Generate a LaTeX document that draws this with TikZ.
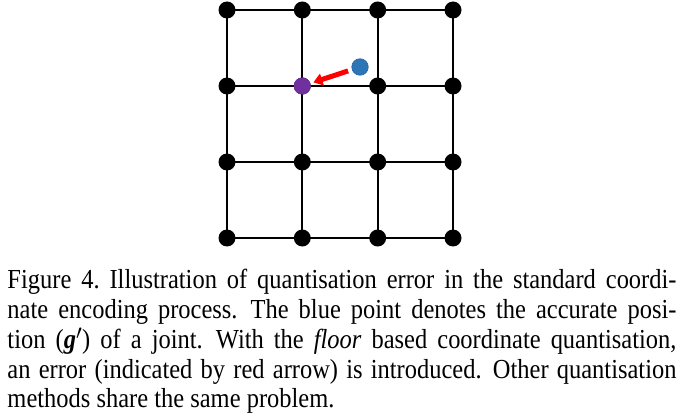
\documentclass[tikz,border=0pt]{standalone}
\usepackage{fontspec}
\setmainfont{Liberation Serif}[FakeStretch=0.89, UprightFont={Liberation Serif}, ItalicFont={Liberation Serif Italic}, BoldFont={Liberation Serif Bold}, BoldItalicFont={Liberation Serif Bold Italic}]
\usetikzlibrary{arrows.meta}
\newcommand{\sentgap}{\hskip 3pt\relax}
\tikzset{
  gridline/.style={line width=2pt, black},
  gdot/.style={circle, fill=black, inner sep=0pt, minimum size=17pt},
  bluedot/.style={circle, fill={rgb,255:red,46;green,117;blue,182}, draw={rgb,255:red,30;green,100;blue,170}, line width=0.6pt, inner sep=0pt, minimum size=16.5pt},
  purpledot/.style={circle, fill={rgb,255:red,112;green,48;blue,160}, inner sep=0pt, minimum size=17pt},
  errarrow/.style={red, line width=5pt, -{Triangle[length=9pt,width=12pt]}},
  capline/.style={anchor=base west, inner sep=0pt, font=\fontsize{27.5}{29.75}\selectfont\frenchspacing},
}
\begin{document}
\begin{tikzpicture}[x=1pt,y=-1pt]
\useasboundingbox (0,0) rectangle (678,417);
% grid coordinates
\foreach \i/\x in {0/227,1/302.3,2/377.7,3/453}{
  \foreach \j/\y in {0/10,1/86,2/162,3/238}{
    \coordinate (p-\i-\j) at (\x,\y);
  }
}
% grid lines
\foreach \k in {0,1,2,3}{
  \draw[gridline] (p-0-\k) -- (p-3-\k);
  \draw[gridline] (p-\k-0) -- (p-\k-3);
}
% dots
\foreach \i in {0,1,2,3}{
  \foreach \j in {0,1,2,3}{
    \node[gdot] (d-\i-\j) at (p-\i-\j) {};
  }
}
\node[purpledot] (q) at (p-1-1) {};
\node[bluedot] (b) at (360,67) {};
\draw[errarrow, shorten <=4pt, shorten >=3pt] (b) -- (q);
% caption
\node[capline] (l1) at (7.3,288.7) {\makebox[669pt][s]{Figure 4. Illustration of quantisation error in the standard coordi-}};
\node[capline] (l2) at (7.3,318.5) {\makebox[669pt][s]{nate encoding process.\sentgap{} The blue point denotes the accurate posi-}};
\node[capline] (l3) at (7.3,348.2) {\makebox[669pt][s]{tion (\textbf{\textit{g}}$'$) of a joint.\sentgap{} With the \textit{floor} based coordinate quantisation,}};
\node[capline] (l4) at (7.3,378) {\makebox[669pt][s]{an error (indicated by red arrow) is introduced.\sentgap{} Other quantisation}};
\node[capline] (l5) at (7.3,407.7) {methods share the same problem.};
\end{tikzpicture}
\end{document}
